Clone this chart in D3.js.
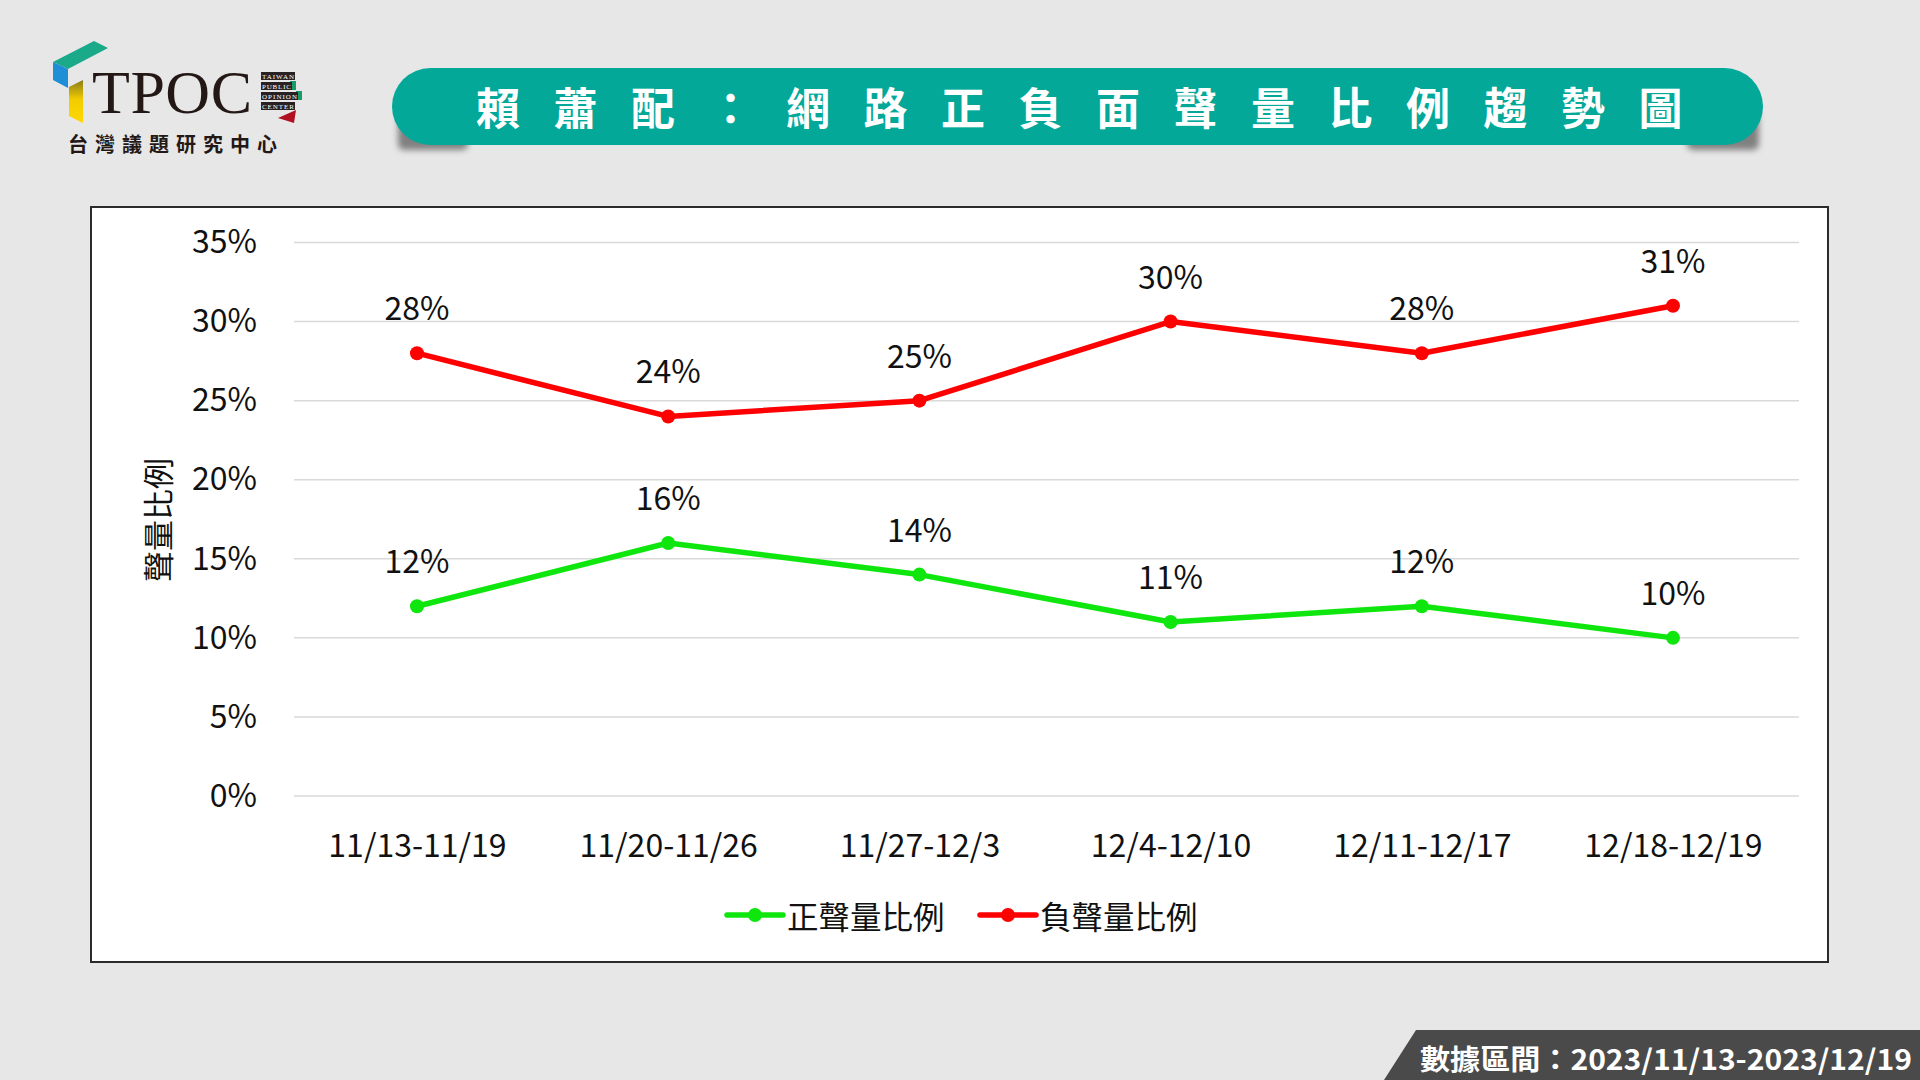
<!DOCTYPE html>
<html><head><meta charset="utf-8">
<script src="https://cdn.jsdelivr.net/npm/d3@7"></script>
<style>
html,body{margin:0;padding:0;background:#e7e7e7;}
svg{display:block;}
</style></head>
<body>
<svg id="c" width="1920" height="1080"></svg>
<script>
const categories = ["11/13-11/19","11/20-11/26","11/27-12/3","12/4-12/10","12/11-12/17","12/18-12/19"];
const positiveValues = [12,16,14,11,12,10];
const negativeValues = [28,24,25,30,28,31];
const seriesNames = ["正聲量比例","負聲量比例"];
const yTicks = [0,5,10,15,20,25,30,35];
const titleText = "賴蕭配：網路正負面聲量比例趨勢圖";
const dateRangeText = "數據區間：2023/11/13-2023/12/19";

const svg = d3.select("#c");
const FONT = "'Noto Sans CJK TC','Noto Sans',sans-serif";
const defs = svg.append("defs");

svg.append("rect").attr("width",1920).attr("height",1080).attr("fill","#e7e7e7");

// ---------- Logo ----------
const yg = defs.append("linearGradient").attr("id","yg").attr("x1",0).attr("y1",0).attr("x2",0).attr("y2",1);
yg.append("stop").attr("offset","0%").attr("stop-color","#8a7a1a");
yg.append("stop").attr("offset","45%").attr("stop-color","#f2cc00");
yg.append("stop").attr("offset","100%").attr("stop-color","#ffd800");
const logo = svg.append("g");
logo.append("polygon").attr("points","53,62 94,41 108,48 68,69").attr("fill","#1aaa8a");
logo.append("polygon").attr("points","53,62 68,69 68,88 53,80").attr("fill","#1e8fd6");
logo.append("polygon").attr("points","69,87 83,80 83,123 69,116").attr("fill","url(#yg)");
logo.append("text").attr("x",92).attr("y",113).attr("font-family","'Liberation Serif',serif")
  .attr("font-size",62).attr("fill","#231815").attr("textLength",160).text("TPOC");
const smallLab = ["TAIWAN","PUBLIC","OPINION","CENTER"];
const smallW = [34,31,37,34];
smallLab.forEach((t,i)=>{
  const y = 72 + i*10;
  if(i===1||i===2) logo.append("rect").attr("x",261+smallW[i]-2).attr("y",y-1).attr("width",6).attr("height",9).attr("fill","#1a9a6a");
  logo.append("rect").attr("x",261).attr("y",y).attr("width",smallW[i]).attr("height",8).attr("fill","#2a2222");
  logo.append("text").attr("x",262).attr("y",y+6.5).attr("font-family","'Liberation Serif',serif")
    .attr("font-size",7).attr("fill","#fff").attr("textLength",smallW[i]-2).text(t);
});
logo.append("polygon").attr("points","278,118 296,110 294,123").attr("fill","#b01020");
logo.append("text").attr("x",68).attr("y",152).attr("font-family",FONT).attr("font-weight",700)
  .attr("font-size",20).attr("letter-spacing",7).attr("fill","#231815").text("台灣議題研究中心");

// ---------- Title banner ----------
const blur = defs.append("filter").attr("id","blur").attr("x","-20%").attr("y","-50%").attr("width","140%").attr("height","200%");
blur.append("feGaussianBlur").attr("stdDeviation",3);
svg.append("rect").attr("x",398).attr("y",112).attr("width",70).attr("height",38).attr("rx",6)
  .attr("fill","#555").attr("opacity",0.7).attr("filter","url(#blur)");
svg.append("rect").attr("x",1687).attr("y",112).attr("width",72).attr("height",38).attr("rx",6)
  .attr("fill","#555").attr("opacity",0.7).attr("filter","url(#blur)");
svg.append("rect").attr("x",392).attr("y",68).attr("width",1371).attr("height",77).attr("rx",38.5)
  .attr("fill","#03a899");
svg.append("text").attr("x",1079+17).attr("y",106).attr("text-anchor","middle").attr("dominant-baseline","central")
  .attr("font-family",FONT).attr("font-weight",700).attr("font-size",44).attr("letter-spacing",33.5)
  .attr("fill","#fff").text(titleText);

// ---------- Chart box ----------
svg.append("rect").attr("x",91).attr("y",207).attr("width",1737).attr("height",755)
  .attr("fill","#fff").attr("stroke","#2b2b2b").attr("stroke-width",2);

const x = d3.scalePoint().domain(categories).range([417,1673]);
const y = d3.scaleLinear().domain([0,35]).range([796,242.5]);

svg.append("g").selectAll("line").data(yTicks).join("line")
  .attr("x1",294).attr("x2",1799).attr("y1",d=>y(d)).attr("y2",d=>y(d))
  .attr("stroke","#d9d9d9").attr("stroke-width",1.5);

const yAxis = svg.append("g").attr("transform","translate(294,0)")
  .call(d3.axisLeft(y).tickValues(yTicks).tickFormat(d=>d+"%").tickSize(0).tickPadding(37));
yAxis.select(".domain").remove();
yAxis.selectAll("text").attr("font-family",FONT).attr("font-size",32).attr("fill","#111");

const xAxis = svg.append("g").attr("transform","translate(0,796)")
  .call(d3.axisBottom(x).tickSize(0).tickPadding(38));
xAxis.select(".domain").remove();
xAxis.selectAll("text").attr("font-family",FONT).attr("font-size",32).attr("fill","#111");

svg.append("text").attr("transform","translate(156,520) rotate(-90)").attr("text-anchor","middle")
  .attr("dominant-baseline","central").attr("font-family",FONT).attr("font-size",31).attr("fill","#111")
  .text("聲量比例");

const series = [
  {name:seriesNames[0], values:positiveValues, color:"#0ee60e"},
  {name:seriesNames[1], values:negativeValues, color:"#ff0000"}
];
const line = d3.line().x((d,i)=>x(categories[i])).y(d=>y(d));
series.forEach(s=>{
  const g = svg.append("g");
  g.append("path").datum(s.values).attr("d",line).attr("fill","none")
    .attr("stroke",s.color).attr("stroke-width",5.5).attr("stroke-linejoin","round");
  g.selectAll("circle").data(s.values).join("circle")
    .attr("cx",(d,i)=>x(categories[i])).attr("cy",d=>y(d)).attr("r",7).attr("fill",s.color);
  g.selectAll("text").data(s.values).join("text")
    .attr("x",(d,i)=>x(categories[i])).attr("y",d=>y(d)-47).attr("text-anchor","middle")
    .attr("dominant-baseline","central").attr("font-family",FONT).attr("font-size",32).attr("fill","#111")
    .text(d=>d+"%");
});

const legX = [727,980];
series.forEach((s,i)=>{
  const g = svg.append("g").attr("transform",`translate(${legX[i]},915)`);
  g.append("line").attr("x1",0).attr("x2",56).attr("stroke",s.color).attr("stroke-width",5.5).attr("stroke-linecap","round");
  g.append("circle").attr("cx",28).attr("r",7).attr("fill",s.color);
  g.append("text").attr("x",60).attr("dominant-baseline","central").attr("font-family",FONT)
    .attr("font-size",31.5).attr("fill","#111").text(s.name);
});

svg.append("polygon").attr("points","1416,1030 1920,1030 1920,1080 1384,1080").attr("fill","#4a4a4a");
svg.append("text").attr("x",1420).attr("y",1058).attr("dominant-baseline","central")
  .attr("font-family",FONT).attr("font-weight",700).attr("font-size",28).attr("fill","#fff")
  .attr("textLength",492).attr("lengthAdjust","spacingAndGlyphs")
  .text(dateRangeText);
</script>
</body></html>
